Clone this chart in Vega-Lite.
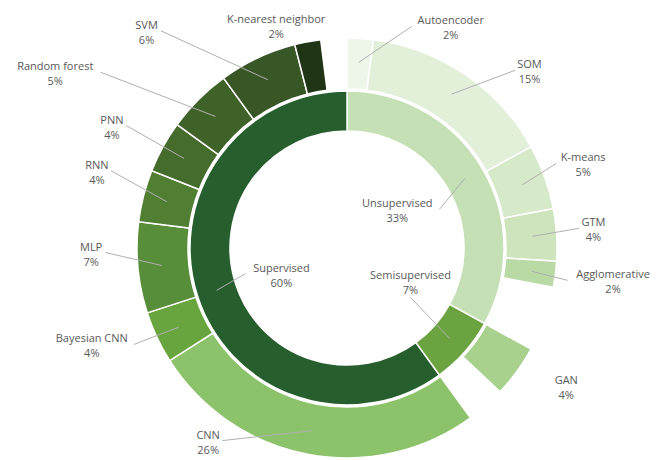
{
  "$schema": "https://vega.github.io/schema/vega-lite/v6.json",
  "width": 632,
  "height": 420,
  "autosize": {"type": "none"},
  "padding": {"left": 31, "top": 38, "right": 0, "bottom": 2},
  "background": "white",
  "config": {"view": {"stroke": null}},
  "data": {
    "values": [
      {"level": "inner", "name": "Unsupervised", "value": 33},
      {"level": "inner", "name": "Semisupervised", "value": 7},
      {"level": "inner", "name": "Supervised", "value": 60},
      {"level": "outer", "name": "Autoencoder", "value": 2},
      {"level": "outer", "name": "SOM", "value": 15},
      {"level": "outer", "name": "K-means", "value": 5},
      {"level": "outer", "name": "GTM", "value": 4},
      {"level": "outer", "name": "Agglomerative", "value": 2},
      {"level": "outer", "name": "gap", "value": 5},
      {"level": "outer", "name": "GAN", "value": 4},
      {"level": "outer", "name": "gap", "value": 3},
      {"level": "outer", "name": "CNN", "value": 26},
      {"level": "outer", "name": "Bayesian CNN", "value": 4},
      {"level": "outer", "name": "MLP", "value": 7},
      {"level": "outer", "name": "RNN", "value": 4},
      {"level": "outer", "name": "PNN", "value": 4},
      {"level": "outer", "name": "Random forest", "value": 5},
      {"level": "outer", "name": "SVM", "value": 6},
      {"level": "outer", "name": "K-nearest neighbor", "value": 2},
      {"level": "outer", "name": "gap", "value": 2}
    ]
  },
  "transform": [
    {"window": [{"op": "row_number", "as": "i"}]},
    {"stack": "value", "groupby": ["level"], "sort": [{"field": "i", "order": "ascending"}], "as": ["v0", "v1"]},
    {"filter": "datum.name !== 'gap'"},
    {"calculate": "PI * (datum.v0 + datum.v1) / 100", "as": "a"},
    {"calculate": "datum.name + '\\n' + datum.value + '%'", "as": "label"},
    {"calculate": "({'Autoencoder': 88, 'SOM': 42, 'K-means': 1, 'GTM': -3, 'Agglomerative': 18, 'GAN': 17, 'CNN': -92, 'Bayesian CNN': -29, 'MLP': -7, 'RNN': -8, 'PNN': -16, 'Random forest': -115, 'SVM': -94, 'K-nearest neighbor': -24, 'Unsupervised': -10, 'Semisupervised': 11, 'Supervised': 1})[datum.name] || 0", "as": "ndx"},
    {"calculate": "({'Autoencoder': 28, 'SOM': 29, 'K-means': 0, 'GTM': -4, 'Agglomerative': 1, 'GAN': -9, 'CNN': -53, 'Bayesian CNN': -10, 'MLP': -19, 'RNN': -15, 'PNN': -2, 'Random forest': 1, 'SVM': 9, 'K-nearest neighbor': 23, 'Unsupervised': -3, 'Semisupervised': -13, 'Supervised': 4})[datum.name] || 0", "as": "ndy"},
    {"calculate": "datum.level === 'inner' ? 70 : 250", "as": "R"},
    {"calculate": "datum.R * sin(datum.a) + datum.ndx", "as": "lx"},
    {"calculate": "datum.R * cos(datum.a) - datum.ndy", "as": "ly"},
    {"calculate": "datum.level === 'inner' ? 137 : 186", "as": "rs"},
    {"calculate": "datum.rs * sin(datum.a)", "as": "sx"},
    {"calculate": "datum.rs * cos(datum.a)", "as": "sy"},
    {"calculate": "3.1 * length(datum.name) + 5", "as": "hw"},
    {"calculate": "abs(datum.sx - datum.lx) > datum.hw ? datum.lx + (datum.sx > datum.lx ? datum.hw : -datum.hw) : datum.lx", "as": "ex"},
    {"calculate": "abs(datum.sx - datum.lx) > datum.hw ? datum.ly : datum.ly + (datum.sy > datum.ly ? 16 : -16)", "as": "ey"}
  ],
  "layer": [
    {
      "transform": [{"filter": "datum.level === 'inner'"}],
      "mark": {"type": "arc", "innerRadius": 117, "outerRadius": 157, "stroke": "white", "strokeWidth": 1.5},
      "encoding": {
        "theta": {"field": "v0", "type": "quantitative", "stack": null, "scale": {"domain": [0, 100]}},
        "theta2": {"field": "v1"},
        "color": {
          "field": "name", "type": "nominal", "legend": null,
          "scale": {
            "domain": ["Unsupervised", "Semisupervised", "Supervised", "Autoencoder", "SOM", "K-means", "GTM", "Agglomerative", "GAN", "CNN", "Bayesian CNN", "MLP", "RNN", "PNN", "Random forest", "SVM", "K-nearest neighbor"],
            "range": ["#c5e0b4", "#6aa340", "#265e2d", "#eef6ea", "#e2efd9", "#d6e9c9", "#cde4bd", "#b9daa5", "#a8d18d", "#8cc36a", "#69a53e", "#588d39", "#507f34", "#466c2d", "#3f6229", "#385626", "#203416"]
          }
        }
      }
    },
    {
      "transform": [{"filter": "datum.level === 'outer'"}],
      "mark": {"type": "arc", "innerRadius": 159, "outerRadius": 210, "stroke": "white", "strokeWidth": 1.5},
      "encoding": {
        "theta": {"field": "v0", "type": "quantitative", "stack": null, "scale": {"domain": [0, 100]}},
        "theta2": {"field": "v1"},
        "color": {"field": "name", "type": "nominal", "legend": null}
      }
    },
    {
      "transform": [{"filter": "datum.name !== 'GAN' && datum.name !== 'K-nearest neighbor'"}],
      "mark": {"type": "rule", "color": "#b0b0b0", "strokeWidth": 1},
      "encoding": {
        "x": {"field": "sx", "type": "quantitative", "axis": null, "scale": {"domain": [-316, 316], "nice": false, "zero": false}},
        "y": {"field": "sy", "type": "quantitative", "axis": null, "scale": {"domain": [-210, 210], "nice": false, "zero": false}},
        "x2": {"field": "ex"},
        "y2": {"field": "ey"}
      }
    },
    {
      "mark": {"type": "text", "font": "Open Sans", "fontSize": 11, "color": "#595959", "lineBreak": "\n", "lineHeight": 15, "align": "center", "baseline": "middle", "dy": -5},
      "encoding": {
        "x": {"field": "lx", "type": "quantitative", "axis": null, "scale": {"domain": [-316, 316], "nice": false, "zero": false}},
        "y": {"field": "ly", "type": "quantitative", "axis": null, "scale": {"domain": [-210, 210], "nice": false, "zero": false}},
        "text": {"field": "label"}
      }
    }
  ]
}
